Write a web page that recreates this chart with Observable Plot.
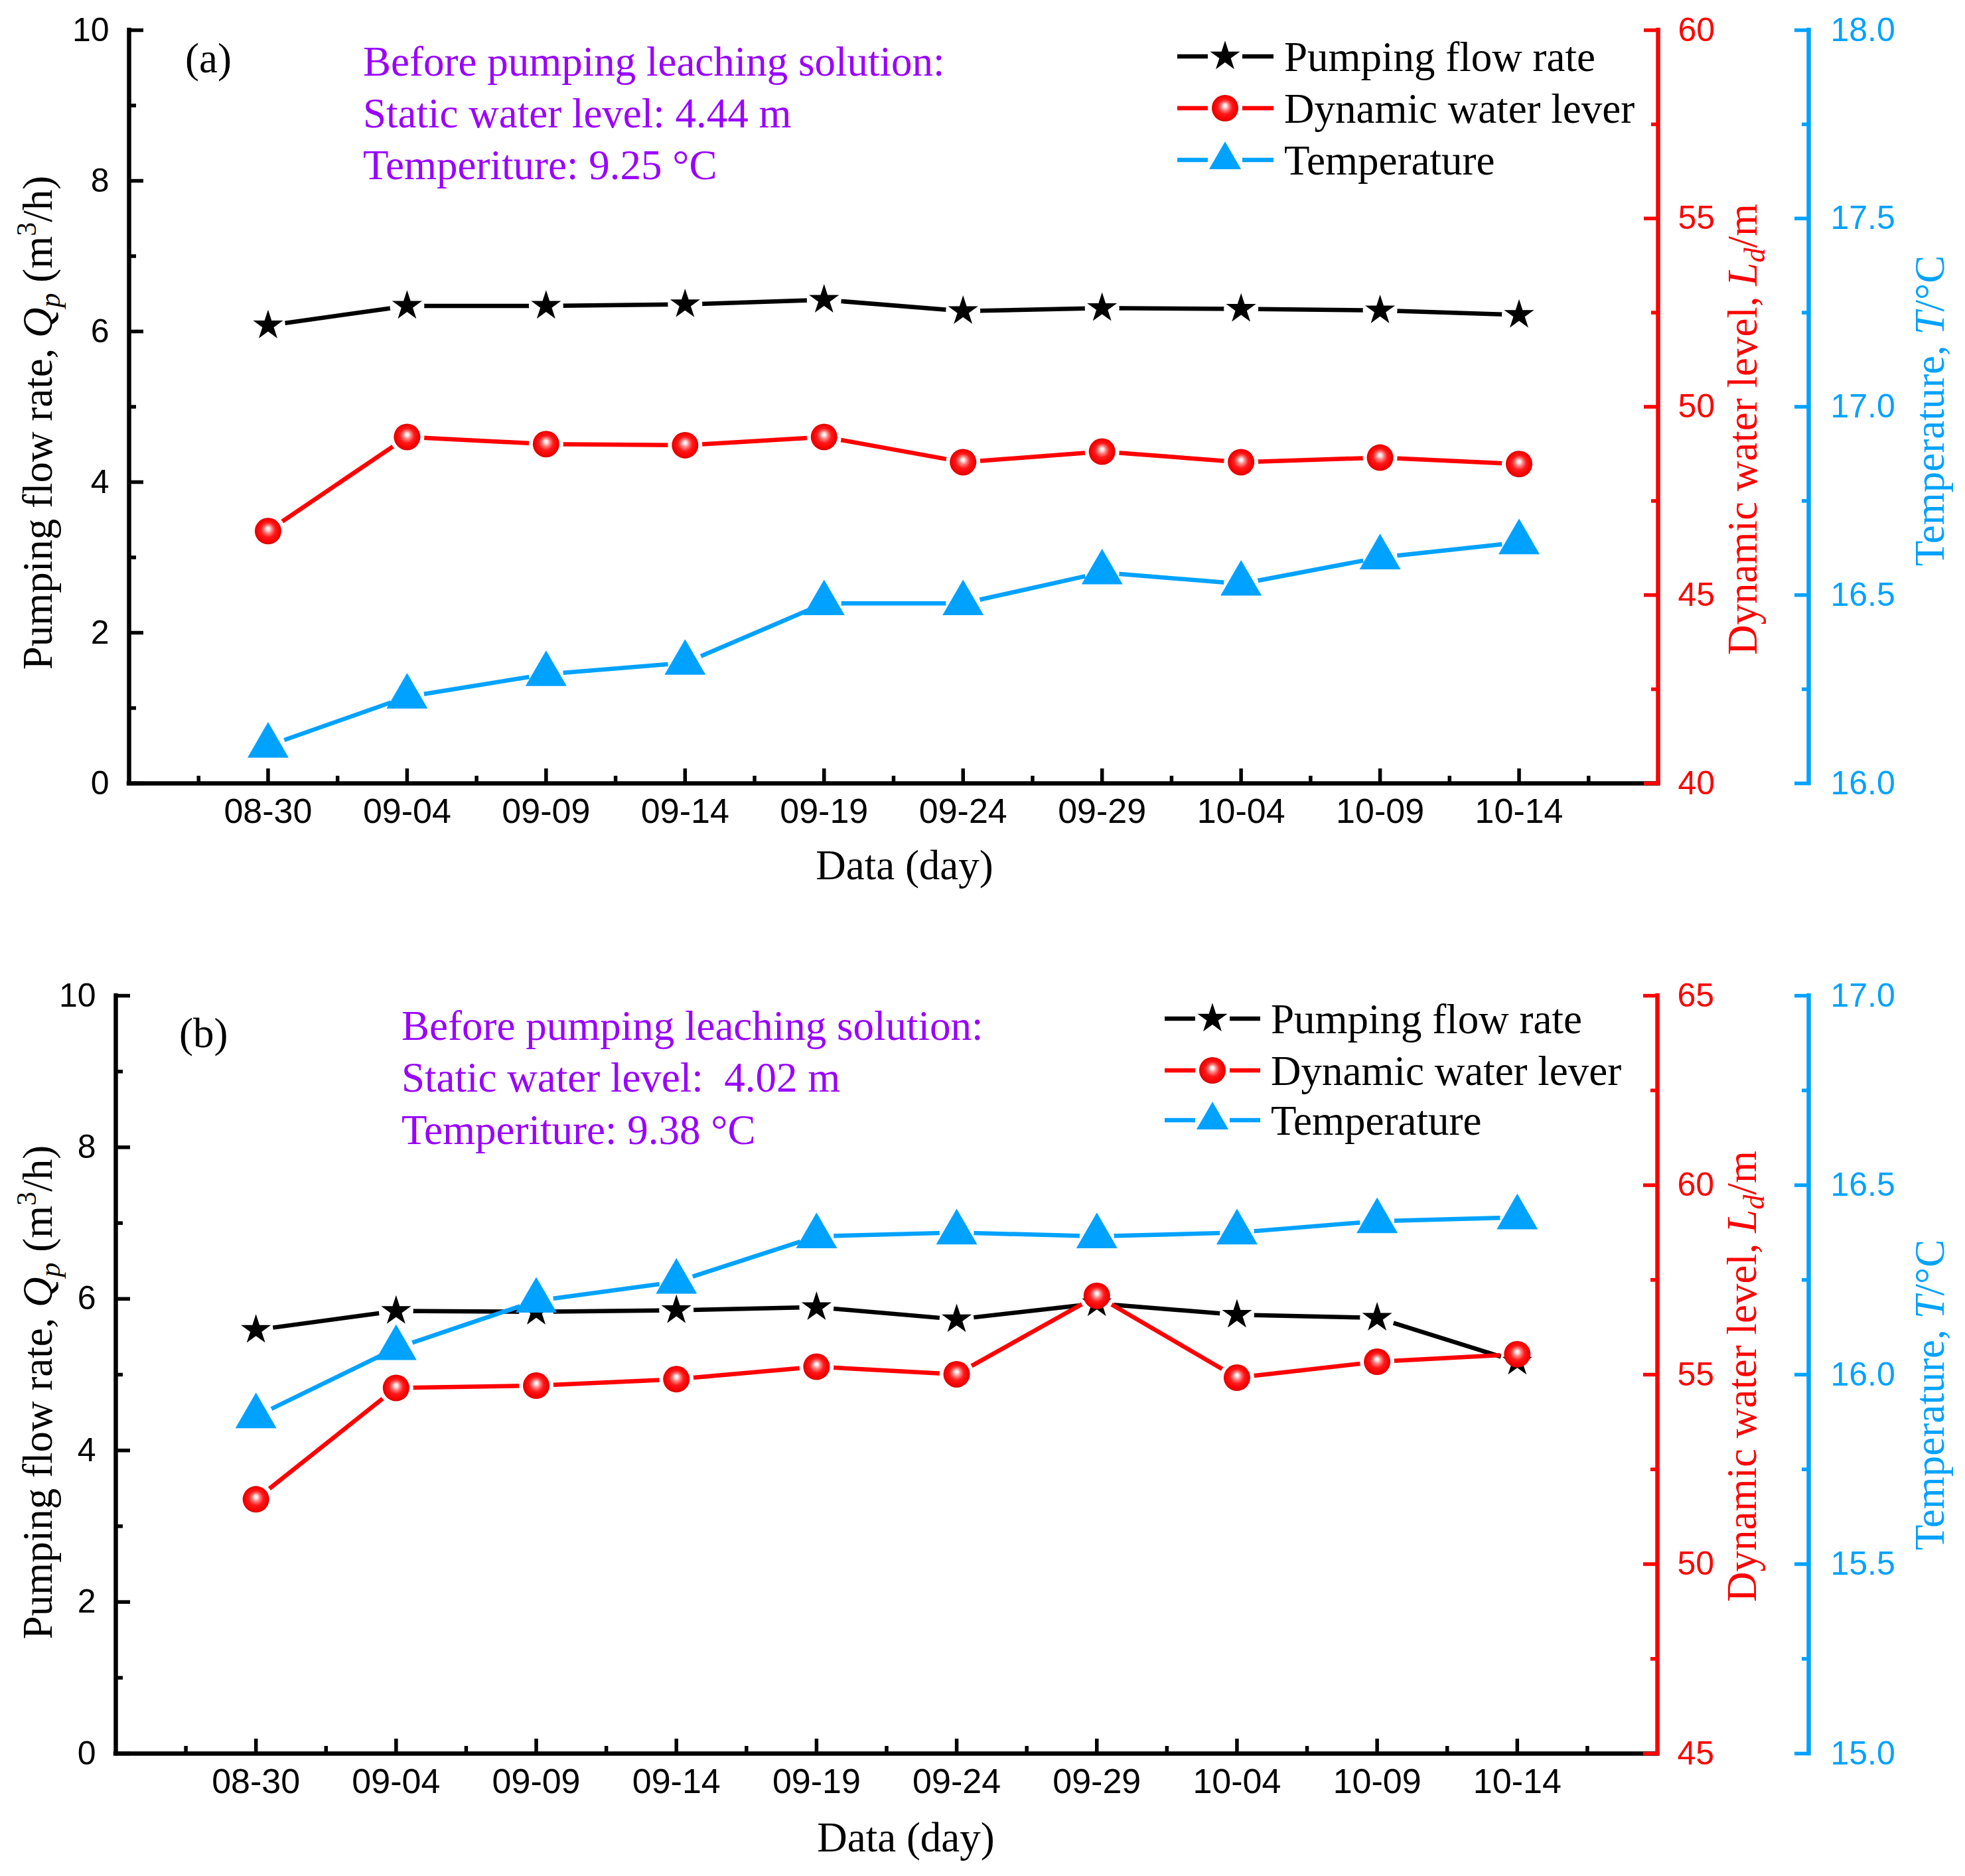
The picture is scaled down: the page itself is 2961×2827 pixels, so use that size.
<!DOCTYPE html>
<html>
<head>
<meta charset="utf-8">
<script src="https://cdn.jsdelivr.net/npm/d3@7"></script>
<script src="https://cdn.jsdelivr.net/npm/@observablehq/plot@0.6"></script>
<style>
  html, body { margin: 0; padding: 0; background: #fff; }
  #figure { width: 2961px; }
  #figure svg { display: block; overflow: visible; max-width: none; }
</style>
</head>
<body>
<div id="figure"></div>
<script>
// ---------- data ----------
const dates = ["08-30", "09-04", "09-09", "09-14", "09-19", "09-24", "09-29", "10-04", "10-09", "10-14"];

// (a) well
const flowA  = [6.08, 6.34, 6.34, 6.36, 6.42, 6.27, 6.31, 6.30, 6.28, 6.22];
const levelA = [46.70, 49.20, 49.01, 48.98, 49.20, 48.53, 48.81, 48.53, 48.65, 48.48];
const tempA  = [16.100, 16.230, 16.290, 16.320, 16.478, 16.478, 16.560, 16.530, 16.600, 16.640];

// (b) well
const flowB  = [5.59, 5.84, 5.83, 5.85, 5.89, 5.73, 5.94, 5.79, 5.75, 5.17];
const levelB = [51.71, 54.65, 54.71, 54.88, 55.21, 55.01, 57.08, 54.92, 55.34, 55.54];
const tempB  = [15.89, 16.07, 16.195, 16.245, 16.365, 16.375, 16.365, 16.375, 16.405, 16.415];

// axis ticks
const flowTicks = [0, 2, 4, 6, 8, 10];
const flowMinor = [1, 3, 5, 7, 9];
const levelTicksA = [40, 45, 50, 55, 60];
const levelMinorA = [42.5, 47.5, 52.5, 57.5];
const levelTicksB = [45, 50, 55, 60, 65];
const levelMinorB = [47.5, 52.5, 57.5, 62.5];
const tempTicksA = [16.0, 16.5, 17.0, 17.5, 18.0];
const tempMinorA = [16.25, 16.75, 17.25, 17.75];
const tempTicksB = [15.0, 15.5, 16.0, 16.5, 17.0];
const tempMinorB = [15.25, 15.75, 16.25, 16.75];

// annotation texts
const noteA = ["Before pumping leaching solution:", "Static water level: 4.44 m", "Temperiture: 9.25 \u00B0C"];
const noteB = ["Before pumping leaching solution:", "Static water level:  4.02 m", "Temperiture: 9.38 \u00B0C"];
const seriesNames = ["Pumping flow rate", "Dynamic water lever", "Temperature"];

// ---------- style ----------
const RED = "#FF0000", BLUE = "#00A2FF", PURPLE = "#9900FF";
const SERIF = "'Liberation Serif', 'Times New Roman', serif";
const SANS = "'Liberation Sans', Arial, sans-serif";
const W = 2961;

const panels = [
  {key: "a", tag: "(a)", flow: flowA, level: levelA, temp: tempA,
   levelDomain: [40, 60], tempDomain: [16, 18],
   levelTicks: levelTicksA, levelMinor: levelMinorA, tempTicks: tempTicksA, tempMinor: tempMinorA, note: noteA,
   layout: {height: 1413, left: 194, right: 2498, top: 45, bottom: 1180, blueDx: 227,
            tagX: 279, tagY: 109, noteX: 547, noteY: [114, 192, 270],
            legX0: 1774, legX1: 1919, legM: 1846, legText: 1935, legY: [85, 163, 241],
            leftTitle: [78, 637], redTitle: [2647, 647], blueTitle: [2929, 619], xTitle: [1363, 1325]}},
  {key: "b", tag: "(b)", flow: flowB, level: levelB, temp: tempB,
   levelDomain: [45, 65], tempDomain: [15, 17],
   levelTicks: levelTicksB, levelMinor: levelMinorB, tempTicks: tempTicksB, tempMinor: tempMinorB, note: noteB,
   layout: {height: 1414, left: 174, right: 2497, top: 87, bottom: 1229, blueDx: 228,
            tagX: 270, tagY: 165, noteX: 605, noteY: [154, 232, 311],
            legX0: 1755, legX1: 1899, legM: 1827, legText: 1915, legY: [122, 200, 275],
            leftTitle: [78, 685], redTitle: [2646, 661], blueTitle: [2929, 689], xTitle: [1365, 1377]}}
];

const STAR_R = 14.2, BALL_R = 20, TRI_R = 23, LINE_W = 6.5, AXIS_W = 6.5, TICK_W = 5.5;
const MAJOR = 22, MINOR = 11, GAP = 26;

function drawPanel(P) {
  const L = P.layout;
  const [l0, l1] = P.levelDomain, [t0, t1] = P.tempDomain;
  const toL = v => (v - l0) / (l1 - l0) * 10;
  const toT = v => (v - t0) / (t1 - t0) * 10;
  const fromL = y => l0 + y / 10 * (l1 - l0);
  const fromT = y => t0 + y / 10 * (t1 - t0);
  const rows = dates.map((d, i) => ({i, date: d, flow: P.flow[i], level: toL(P.level[i]), temp: toT(P.temp[i])}));
  const ballId = `ball-${P.key}`;

  const tickOpts = (stroke) => ({fill: "none", stroke, strokeWidth: TICK_W, label: null});
  const labelOpts = (fill, size) => ({tickSize: 0, fill, fontSize: size, fontFamily: SANS, label: null});

  const svg = Plot.plot({
    width: W,
    height: L.height,
    marginLeft: L.left,
    marginRight: W - L.right,
    marginTop: L.top,
    marginBottom: L.height - L.bottom,
    x: {domain: [-1, 10], axis: null},
    y: {domain: [0, 10], axis: null},
    style: {fontFamily: SANS, background: "white", overflow: "visible"},
    marks: [
      // series
      Plot.line(rows, {x: "i", y: "flow", stroke: "black", strokeWidth: LINE_W}),
      Plot.dot(rows, {x: "i", y: "flow", symbol: "star", r: STAR_R, fill: "black"}),
      Plot.line(rows, {x: "i", y: "level", stroke: RED, strokeWidth: LINE_W}),
      Plot.dot(rows, {x: "i", y: "level", r: BALL_R, fill: `url(#${ballId})`}),
      Plot.line(rows, {x: "i", y: "temp", stroke: BLUE, strokeWidth: LINE_W}),
      Plot.dot(rows, {x: "i", y: "temp", symbol: "triangle", r: TRI_R, fill: BLUE}),

      // axis lines (open top)
      Plot.ruleY([0], {stroke: "black", strokeWidth: AXIS_W, strokeLinecap: "square"}),
      Plot.ruleX([-1], {stroke: "black", strokeWidth: AXIS_W, strokeLinecap: "square"}),
      Plot.ruleX([10], {stroke: RED, strokeWidth: AXIS_W, strokeLinecap: "square"}),
      Plot.ruleX([10], {dx: L.blueDx, stroke: BLUE, strokeWidth: AXIS_W, strokeLinecap: "square"}),

      // bottom axis: inward ticks + date labels
      Plot.axisX(d3.range(0, 10), {anchor: "bottom", tickSize: MAJOR, dy: -MAJOR, ...tickOpts("black")}),
      Plot.axisX(d3.range(-0.5, 10, 1), {anchor: "bottom", tickSize: MINOR, dy: -MINOR, ...tickOpts("black")}),
      Plot.axisX(d3.range(0, 10), {anchor: "bottom", tickPadding: 23, tickFormat: i => dates[i], ...labelOpts("black", 52)}),

      // left axis: flow rate
      Plot.axisY(flowTicks, {anchor: "left", tickSize: MAJOR, dx: MAJOR, ...tickOpts("black")}),
      Plot.axisY(flowMinor, {anchor: "left", tickSize: MINOR, dx: MINOR, ...tickOpts("black")}),
      Plot.axisY(flowTicks, {anchor: "left", tickPadding: 30, tickFormat: d3.format("d"), ...labelOpts("black", 50)}),

      // right axis: dynamic water level
      Plot.axisY(P.levelTicks.map(toL), {anchor: "right", tickSize: MAJOR, dx: -MAJOR, ...tickOpts(RED)}),
      Plot.axisY(P.levelMinor.map(toL), {anchor: "right", tickSize: MINOR, dx: -MINOR, ...tickOpts(RED)}),
      Plot.axisY(P.levelTicks.map(toL), {anchor: "right", tickPadding: 30, tickFormat: y => d3.format("d")(fromL(y)), ...labelOpts(RED, 50)}),

      // offset right axis: temperature
      Plot.axisY(P.tempTicks.map(toT), {anchor: "right", tickSize: MAJOR, dx: L.blueDx - MAJOR, ...tickOpts(BLUE)}),
      Plot.axisY(P.tempMinor.map(toT), {anchor: "right", tickSize: MINOR, dx: L.blueDx - MINOR, ...tickOpts(BLUE)}),
      Plot.axisY(P.tempTicks.map(toT), {anchor: "right", dx: L.blueDx, tickPadding: 33, tickFormat: y => d3.format(".1f")(fromT(y)), ...labelOpts(BLUE, 50)})
    ]
  });

  const root = d3.select(svg);
  const defs = root.insert("defs", ":first-child");

  // shaded sphere fill for the water level markers
  const grad = defs.append("radialGradient").attr("id", ballId)
    .attr("cx", "50%").attr("cy", "50%").attr("r", "50%").attr("fx", "50%").attr("fy", "40%");
  [[0, "#ffffff"], [0.13, "#ffe0e0"], [0.3, "#ff8080"], [0.55, "#ff1a1a"], [0.85, "#f80000"], [1, "#d80000"]]
    .forEach(([o, c]) => grad.append("stop").attr("offset", o).attr("stop-color", c));

  // leave a small gap in each line around its own markers
  const sx = svg.scale("x"), sy = svg.scale("y");
  const lineNodes = svg.querySelectorAll('g[aria-label="line"]');
  ["flow", "level", "temp"].forEach((field, k) => {
    const id = `gap-${P.key}-${k}`;
    const m = defs.append("mask").attr("id", id).attr("maskUnits", "userSpaceOnUse")
      .attr("x", -10).attr("y", -10).attr("width", W + 20).attr("height", L.height + 20);
    m.append("rect").attr("x", -10).attr("y", -10).attr("width", W + 20).attr("height", L.height + 20).attr("fill", "white");
    rows.forEach(r => m.append("circle").attr("cx", sx.apply(r.i)).attr("cy", sy.apply(r[field])).attr("r", GAP).attr("fill", "black"));
    if (lineNodes[k]) lineNodes[k].setAttribute("mask", `url(#${id})`);
  });

  const overlay = root.append("g").attr("font-family", SERIF).attr("font-size", 63);

  // panel tag
  overlay.append("text").attr("x", L.tagX).attr("y", L.tagY).attr("text-anchor", "start").attr("fill", "black").text(P.tag);

  // note about the static conditions
  P.note.forEach((s, j) => {
    overlay.append("text").attr("x", L.noteX).attr("y", L.noteY[j]).attr("text-anchor", "start")
      .attr("fill", PURPLE).style("white-space", "pre").text(s);
  });

  // legend
  const legendColors = ["black", RED, BLUE];
  legendColors.forEach((c, j) => {
    const y = L.legY[j];
    overlay.append("line").attr("x1", L.legX0).attr("x2", L.legM - GAP).attr("y1", y).attr("y2", y)
      .attr("stroke", c).attr("stroke-width", LINE_W);
    overlay.append("line").attr("x1", L.legM + GAP).attr("x2", L.legX1).attr("y1", y).attr("y2", y)
      .attr("stroke", c).attr("stroke-width", LINE_W);
    if (j === 0) {
      overlay.append("path").attr("transform", `translate(${L.legM},${y})`)
        .attr("d", d3.symbol(d3.symbolStar, Math.PI * STAR_R * STAR_R)()).attr("fill", "black");
    } else if (j === 1) {
      overlay.append("circle").attr("cx", L.legM).attr("cy", y).attr("r", BALL_R).attr("fill", `url(#${ballId})`);
    } else {
      overlay.append("path").attr("transform", `translate(${L.legM},${y})`)
        .attr("d", d3.symbol(d3.symbolTriangle2, Math.PI * TRI_R * TRI_R)()).attr("fill", BLUE);
    }
    overlay.append("text").attr("x", L.legText).attr("y", y + 22).attr("text-anchor", "start")
      .attr("fill", "black").text(seriesNames[j]);
  });

  // axis titles
  function title([x, y], rotate, color, parts) {
    const t = overlay.append("text").attr("transform", `translate(${x},${y}) rotate(${rotate})`)
      .attr("text-anchor", "middle").attr("fill", color).style("white-space", "pre");
    parts.forEach(p => {
      const ts = t.append("tspan").text(p.t);
      if (p.i) ts.attr("font-style", "italic");
      if (p.s) ts.attr("font-size", p.s);
      if (p.dy) ts.attr("dy", p.dy);
    });
  }
  title(L.leftTitle, -90, "black", [
    {t: "Pumping flow rate, "}, {t: "Q", i: true}, {t: "p", i: true, s: 44, dy: 12},
    {t: " (m", dy: -12}, {t: "3", s: 42, dy: -24}, {t: "/h)", dy: 24}
  ]);
  title(L.redTitle, -90, RED, [
    {t: "Dynamic water level, "}, {t: "L", i: true}, {t: "d", i: true, s: 44, dy: 12}, {t: "/m", dy: -12}
  ]);
  title(L.blueTitle, -90, BLUE, [
    {t: "Temperature, "}, {t: "T", i: true}, {t: "/\u00B0C"}
  ]);
  title(L.xTitle, 0, "black", [{t: "Data (day)"}]);

  return svg;
}

const figure = document.getElementById("figure");
panels.forEach(P => figure.appendChild(drawPanel(P)));
</script>
</body>
</html>
